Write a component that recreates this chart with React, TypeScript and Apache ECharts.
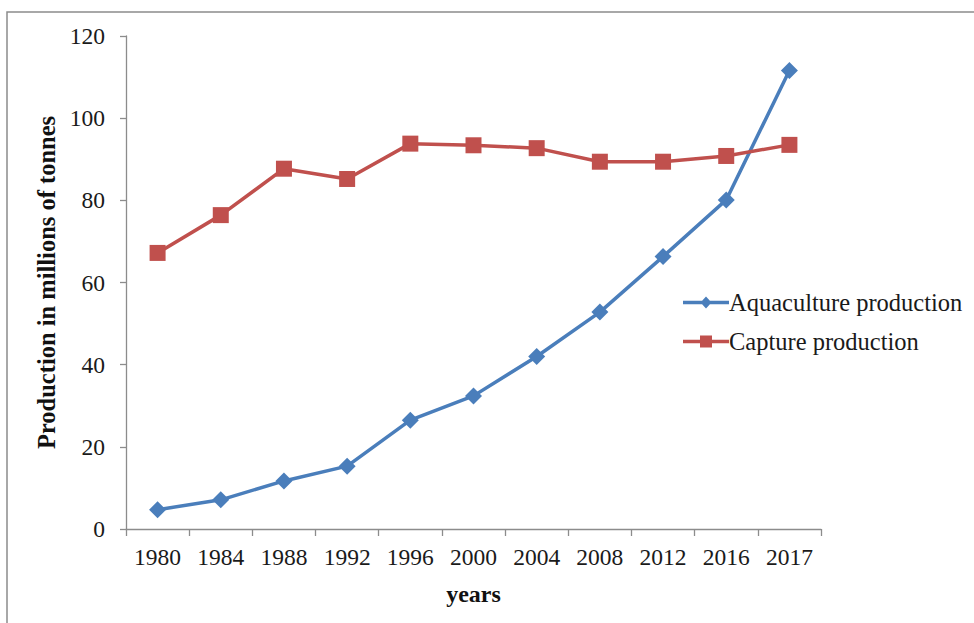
import React, { useEffect, useRef } from "react";
import * as echarts from "echarts";

const years = ["1980", "1984", "1988", "1992", "1996", "2000", "2004", "2008", "2012", "2016", "2017"];
const aquaculture = [4.7, 7.1, 11.7, 15.3, 26.5, 32.4, 42.0, 52.8, 66.3, 80.1, 111.6];
const capture = [67.2, 76.4, 87.7, 85.2, 93.8, 93.4, 92.7, 89.4, 89.4, 90.8, 93.5];
const yTicks = { min: 0, max: 120, interval: 20 };

const serif = "'Liberation Serif', 'Times New Roman', serif";

const legendDiamond = "path://M0 4.25 H46 V7.75 H0 Z M23 0 L28.5 6 L23 12 L17.5 6 Z";
const legendSquare = "path://M0 4.25 H46 V7.75 H0 Z M17 0 H29 V12 H17 Z";

export default function App() {
  const ref = useRef<HTMLDivElement>(null);
  useEffect(() => {
    if (!ref.current) return;
    const chart = echarts.init(ref.current, null, { renderer: "svg" });
    chart.setOption({
      animation: false,
      backgroundColor: "#ffffff",
      textStyle: { fontFamily: serif },
      graphic: [
        {
          type: "rect",
          shape: { x: 7, y: 12, width: 990, height: 640 },
          style: { fill: "none", stroke: "#8c8c8c", lineWidth: 1.5 },
          silent: true,
        },
      ],
      grid: { left: 126, right: 153, top: 36, bottom: 94, containLabel: false },
      legend: {
        orient: "vertical",
        left: 678,
        top: 285,
        itemWidth: 46,
        itemHeight: 12,
        itemGap: 14,
        textStyle: { fontFamily: serif, fontSize: 24.5, color: "#1a1a1a", padding: [0, 0, 0, -5] },
        data: [
          { name: "Aquaculture production", icon: legendDiamond, itemStyle: { color: "#4a7ebb" } },
          { name: "Capture production", icon: legendSquare, itemStyle: { color: "#c0504d" } },
        ],
      },
      xAxis: {
        type: "category",
        data: years,
        boundaryGap: true,
        name: "years",
        nameLocation: "middle",
        nameGap: 53,
        nameTextStyle: { fontFamily: serif, fontSize: 24, fontWeight: "bold", color: "#111" },
        axisLine: { lineStyle: { color: "#8c8c8c", width: 1.3 } },
        axisTick: { show: true, length: 7, lineStyle: { color: "#8c8c8c", width: 1.3 } },
        axisLabel: { fontFamily: serif, fontSize: 23.5, color: "#1a1a1a", margin: 16, interval: 0 },
        splitLine: { show: false },
      },
      yAxis: {
        type: "value",
        min: yTicks.min,
        max: yTicks.max,
        interval: yTicks.interval,
        name: "Production in millions of tonnes",
        nameLocation: "middle",
        nameGap: 67,
        nameTextStyle: { fontFamily: serif, fontSize: 24.5, fontWeight: "bold", color: "#111" },
        axisLine: { show: true, lineStyle: { color: "#8c8c8c", width: 1.3 } },
        axisTick: { show: true, length: 6, lineStyle: { color: "#8c8c8c", width: 1.3 } },
        axisLabel: { fontFamily: serif, fontSize: 23.5, color: "#1a1a1a", margin: 21 },
        splitLine: { show: false },
      },
      series: [
        {
          name: "Aquaculture production",
          type: "line",
          data: aquaculture,
          symbol: "diamond",
          symbolSize: 17,
          color: "#4a7ebb",
          lineStyle: { width: 3.5, color: "#4a7ebb" },
          itemStyle: { color: "#4a7ebb" },
        },
        {
          name: "Capture production",
          type: "line",
          data: capture,
          symbol: "rect",
          symbolSize: 16,
          color: "#c0504d",
          lineStyle: { width: 3.5, color: "#c0504d" },
          itemStyle: { color: "#c0504d" },
        },
      ],
    });
    return () => chart.dispose();
  }, []);
  return (
    <div
      ref={ref}
      style={{ position: "fixed", left: 0, top: 0, width: 974, height: 623 }}
    />
  );
}
